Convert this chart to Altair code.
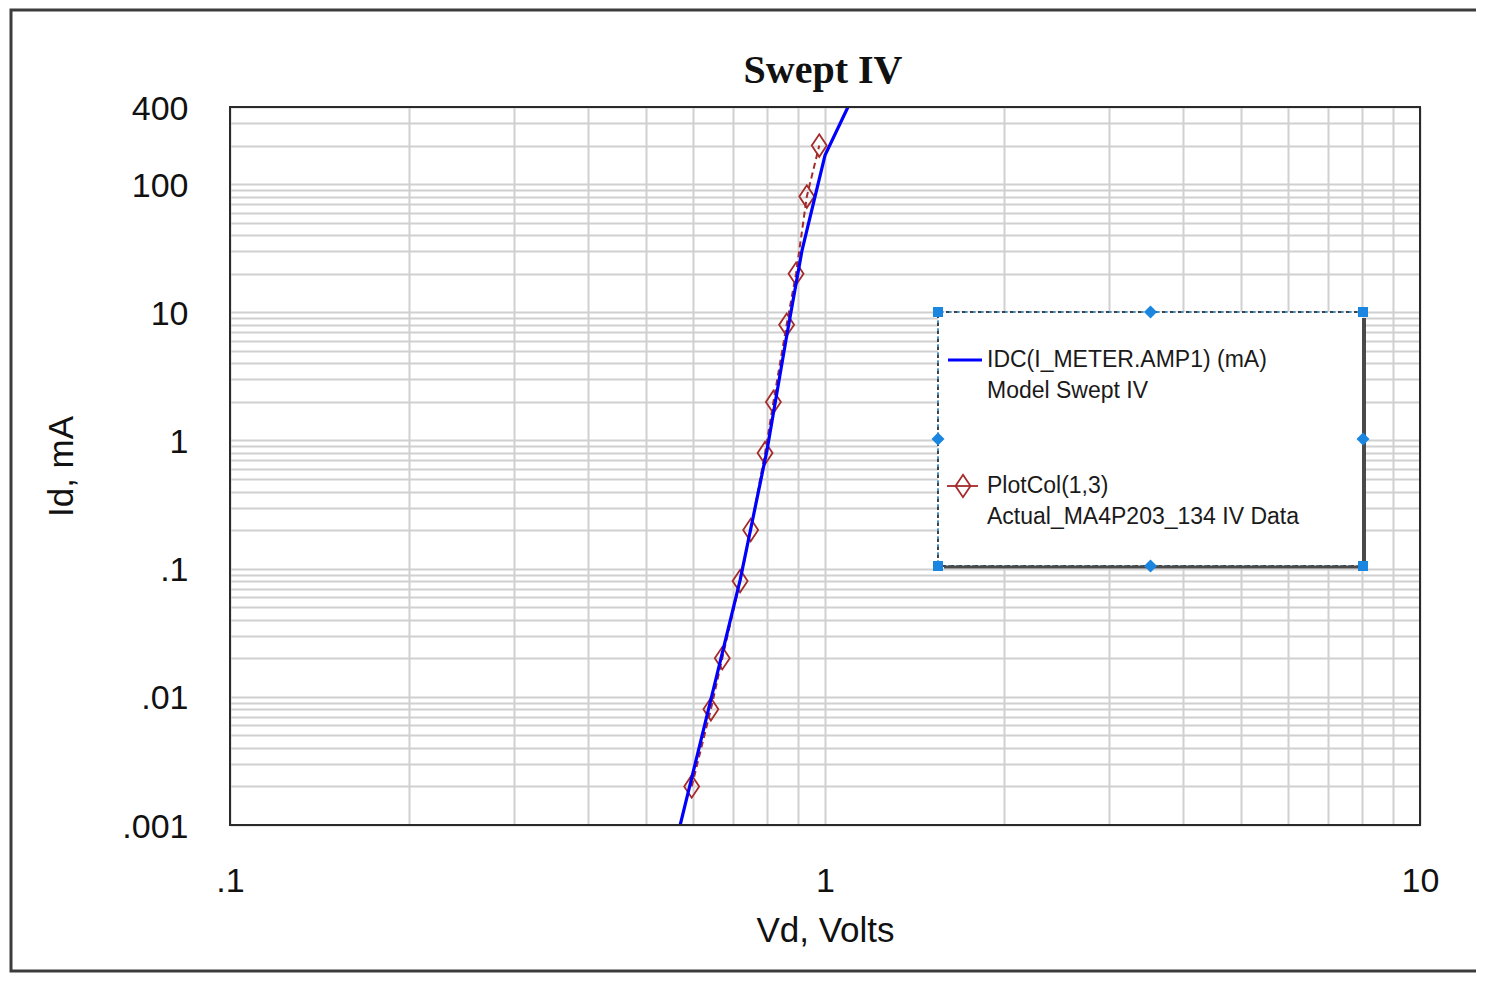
import altair as alt
import pandas as pd

# ---- data ----
# Model (blue line): IDC(I_METER.AMP1) (mA) vs Vd
model_vd = [0.571, 0.720, 0.799, 0.860, 0.915, 1.0, 1.093]
model_id = [0.001, 0.0815, 0.84, 6.1, 30.5, 168, 400]

# Measured (red diamonds, dashed): PlotCol(1,3)
meas_vd = [0.597, 0.643, 0.672, 0.720, 0.750, 0.793, 0.819, 0.862, 0.894, 0.932, 0.978]
meas_id = [0.002, 0.008, 0.02, 0.08, 0.2, 0.8, 2, 8, 20, 80, 200]

x_tick_values = [0.1, 1, 10]
x_tick_labels = [".1", "1", "10"]
y_tick_values = [0.001, 0.01, 0.1, 1, 10, 100, 400]
y_tick_labels = [".001", ".01", ".1", "1", "10", "100", "400"]

legend_line1 = ["IDC(I_METER.AMP1) (mA)", "Model Swept IV"]
legend_line2 = ["PlotCol(1,3)", "Actual_MA4P203_134 IV Data"]

title_text = "Swept IV"
x_title = "Vd, Volts"
y_title = "Id, mA"

# gridline positions (log minor grid)
x_grid = [round(m * 10 ** e, 6) for e in (-1, 0) for m in range(1, 10)] + [10]
y_grid = [v for v in (round(m * 10 ** e, 6) for e in range(-3, 3) for m in range(1, 10)) if v <= 400]


def label_expr(vals, labs):
    expr = "''"
    for v, l in reversed(list(zip(vals, labs))):
        expr = f"datum.value == {v} ? '{l}' : ({expr})"
    return expr


W, H = 1190, 718
BLUE = "#0000ff"
RED = "#a52a2a"
HANDLE = "#1a86e0"

x_scale = alt.Scale(type="log", domain=[0.1, 10], nice=False)
y_scale = alt.Scale(type="log", domain=[0.001, 400], nice=False)

x_axis = alt.Axis(
    values=x_grid + [v for v in x_tick_values if v not in x_grid],
    labelExpr=label_expr(x_tick_values, x_tick_labels),
    title=x_title, grid=True, ticks=False, tickSize=0, domain=False,
    labelPadding=39, labelOverlap=False, labelFlush=False, labelBound=False,
    titlePadding=15,
)
y_axis = alt.Axis(
    values=y_grid,
    labelExpr=label_expr(y_tick_values, y_tick_labels),
    title=y_title, grid=True, ticks=False, tickSize=0, domain=False,
    labelPadding=42, labelOverlap=False, labelFlush=False, labelBound=False,
    titlePadding=42, labelOffset=2,
)

df_model = pd.DataFrame({"vd": model_vd, "id": model_id})
df_meas = pd.DataFrame({"vd": meas_vd, "id": meas_id})

X = alt.X("vd:Q", scale=x_scale, axis=x_axis)
Y = alt.Y("id:Q", scale=y_scale, axis=y_axis)

one = alt.Data(values=[{"a": 1}])

# outer window frame
frame = alt.Chart(one).mark_rect(fill=None, fillOpacity=0, stroke="#3c3c3c", strokeWidth=3).encode(
    x=alt.value(-219), x2=alt.value(1300), y=alt.value(-97), y2=alt.value(H + 146)
)

# plot border (drawn above grid)
border = alt.Chart(one).mark_rect(fill=None, fillOpacity=0, stroke="#2a2a2a", strokeWidth=2).encode(
    x=alt.value(0), x2=alt.value(W), y=alt.value(0), y2=alt.value(H)
)

title_mark = alt.Chart(alt.Data(values=[{"t": title_text}])).mark_text(
    font="Liberation Serif", fontSize=40, fontWeight="bold", color="#111111",
    align="center", baseline="alphabetic"
).encode(x=alt.value(593), y=alt.value(-24), text="t:N")

meas_line = alt.Chart(df_meas).mark_line(color=RED, strokeWidth=2, strokeDash=[6, 4], clip=True).encode(
    x=X, y=Y
)
diamond = "M0,-1.5L1,0L0,1.5L-1,0Z"
meas_pts = alt.Chart(df_meas).mark_point(
    shape=diamond, size=225, filled=False, color=RED, strokeWidth=1.8, opacity=1
).encode(x=X, y=Y)
model_line = alt.Chart(df_model).mark_line(color=BLUE, strokeWidth=3.2, clip=True).encode(x=X, y=Y)

# ---- legend box (as in the reference, with selection handles) ----
LX0, LX1, LY0, LY1 = 708, 1133, 205, 459
leg_box = alt.Chart(one).mark_rect(fill="white", stroke="#404040", strokeWidth=2, strokeDash=[5, 3]).encode(
    x=alt.value(LX0), x2=alt.value(LX1), y=alt.value(LY0), y2=alt.value(LY1)
)
leg_box2 = alt.Chart(one).mark_rect(fill=None, fillOpacity=0, stroke="#4aa8e8", strokeWidth=1.5,
                                    strokeDash=[3, 5], strokeDashOffset=5).encode(
    x=alt.value(LX0), x2=alt.value(LX1), y=alt.value(LY0), y2=alt.value(LY1)
)
shadow_r = alt.Chart(one).mark_rule(color="#4a4a4a", strokeWidth=4).encode(
    x=alt.value(LX1 + 1), y=alt.value(LY0 + 6), y2=alt.value(LY1 + 1)
)
shadow_b = alt.Chart(one).mark_rule(color="#4a4a4a", strokeWidth=3).encode(
    x=alt.value(LX0 + 6), x2=alt.value(LX1 + 2), y=alt.value(LY1 + 1)
)

handles_sq = alt.Chart(alt.Data(values=[
    {"hx": LX0, "hy": LY0}, {"hx": LX1, "hy": LY0}, {"hx": LX0, "hy": LY1}, {"hx": LX1, "hy": LY1}
])).mark_square(size=100, color=HANDLE, opacity=1).encode(
    x=alt.X("hx:Q", scale=None), y=alt.Y("hy:Q", scale=None)
)
MX, MY = (LX0 + LX1) / 2, (LY0 + LY1) / 2
handles_di = alt.Chart(alt.Data(values=[
    {"hx": MX, "hy": LY0}, {"hx": MX, "hy": LY1}, {"hx": LX0, "hy": MY}, {"hx": LX1, "hy": MY}
])).mark_point(shape="diamond", size=170, filled=True, color=HANDLE, opacity=1).encode(
    x=alt.X("hx:Q", scale=None), y=alt.Y("hy:Q", scale=None)
)

leg_blue = alt.Chart(one).mark_rule(color=BLUE, strokeWidth=3).encode(
    x=alt.value(718), x2=alt.value(752), y=alt.value(253)
)
leg_red = alt.Chart(one).mark_rule(color=RED, strokeWidth=1.8).encode(
    x=alt.value(717), x2=alt.value(748), y=alt.value(379)
)
leg_red_pt = alt.Chart(one).mark_point(shape=diamond, size=225, filled=False, color=RED,
                                       strokeWidth=1.8, opacity=1).encode(
    x=alt.value(733), y=alt.value(379)
)

text_style = dict(align="left", baseline="middle", font="Liberation Sans", fontSize=23, color="#1a1a1a")
leg_t = []
for txt, yy in zip(legend_line1 + legend_line2, [253, 284, 379, 410]):
    leg_t.append(
        alt.Chart(alt.Data(values=[{"t": txt}])).mark_text(**text_style).encode(
            x=alt.value(757), y=alt.value(yy), text="t:N"
        )
    )

chart = alt.layer(
    frame, meas_line, meas_pts, model_line, border,
    leg_box, leg_box2, shadow_r, shadow_b, handles_sq, handles_di,
    leg_blue, leg_red, leg_red_pt, *leg_t, title_mark,
).properties(
    width=W, height=H,
    padding={"left": 222, "top": 99, "right": 56, "bottom": 149},
    autosize=alt.AutoSizeParams(type="none"),
).configure_view(
    strokeWidth=0
).configure_axis(
    gridColor="#d0d0d0", gridWidth=2, gridOpacity=1,
    labelFont="Liberation Sans", labelFontSize=34, labelColor="#111111",
    titleFont="Liberation Sans", titleFontSize=35, titleFontWeight="normal", titleColor="#111111",
)

chart.save("out.html", embed_options={"renderer": "svg", "actions": False})
